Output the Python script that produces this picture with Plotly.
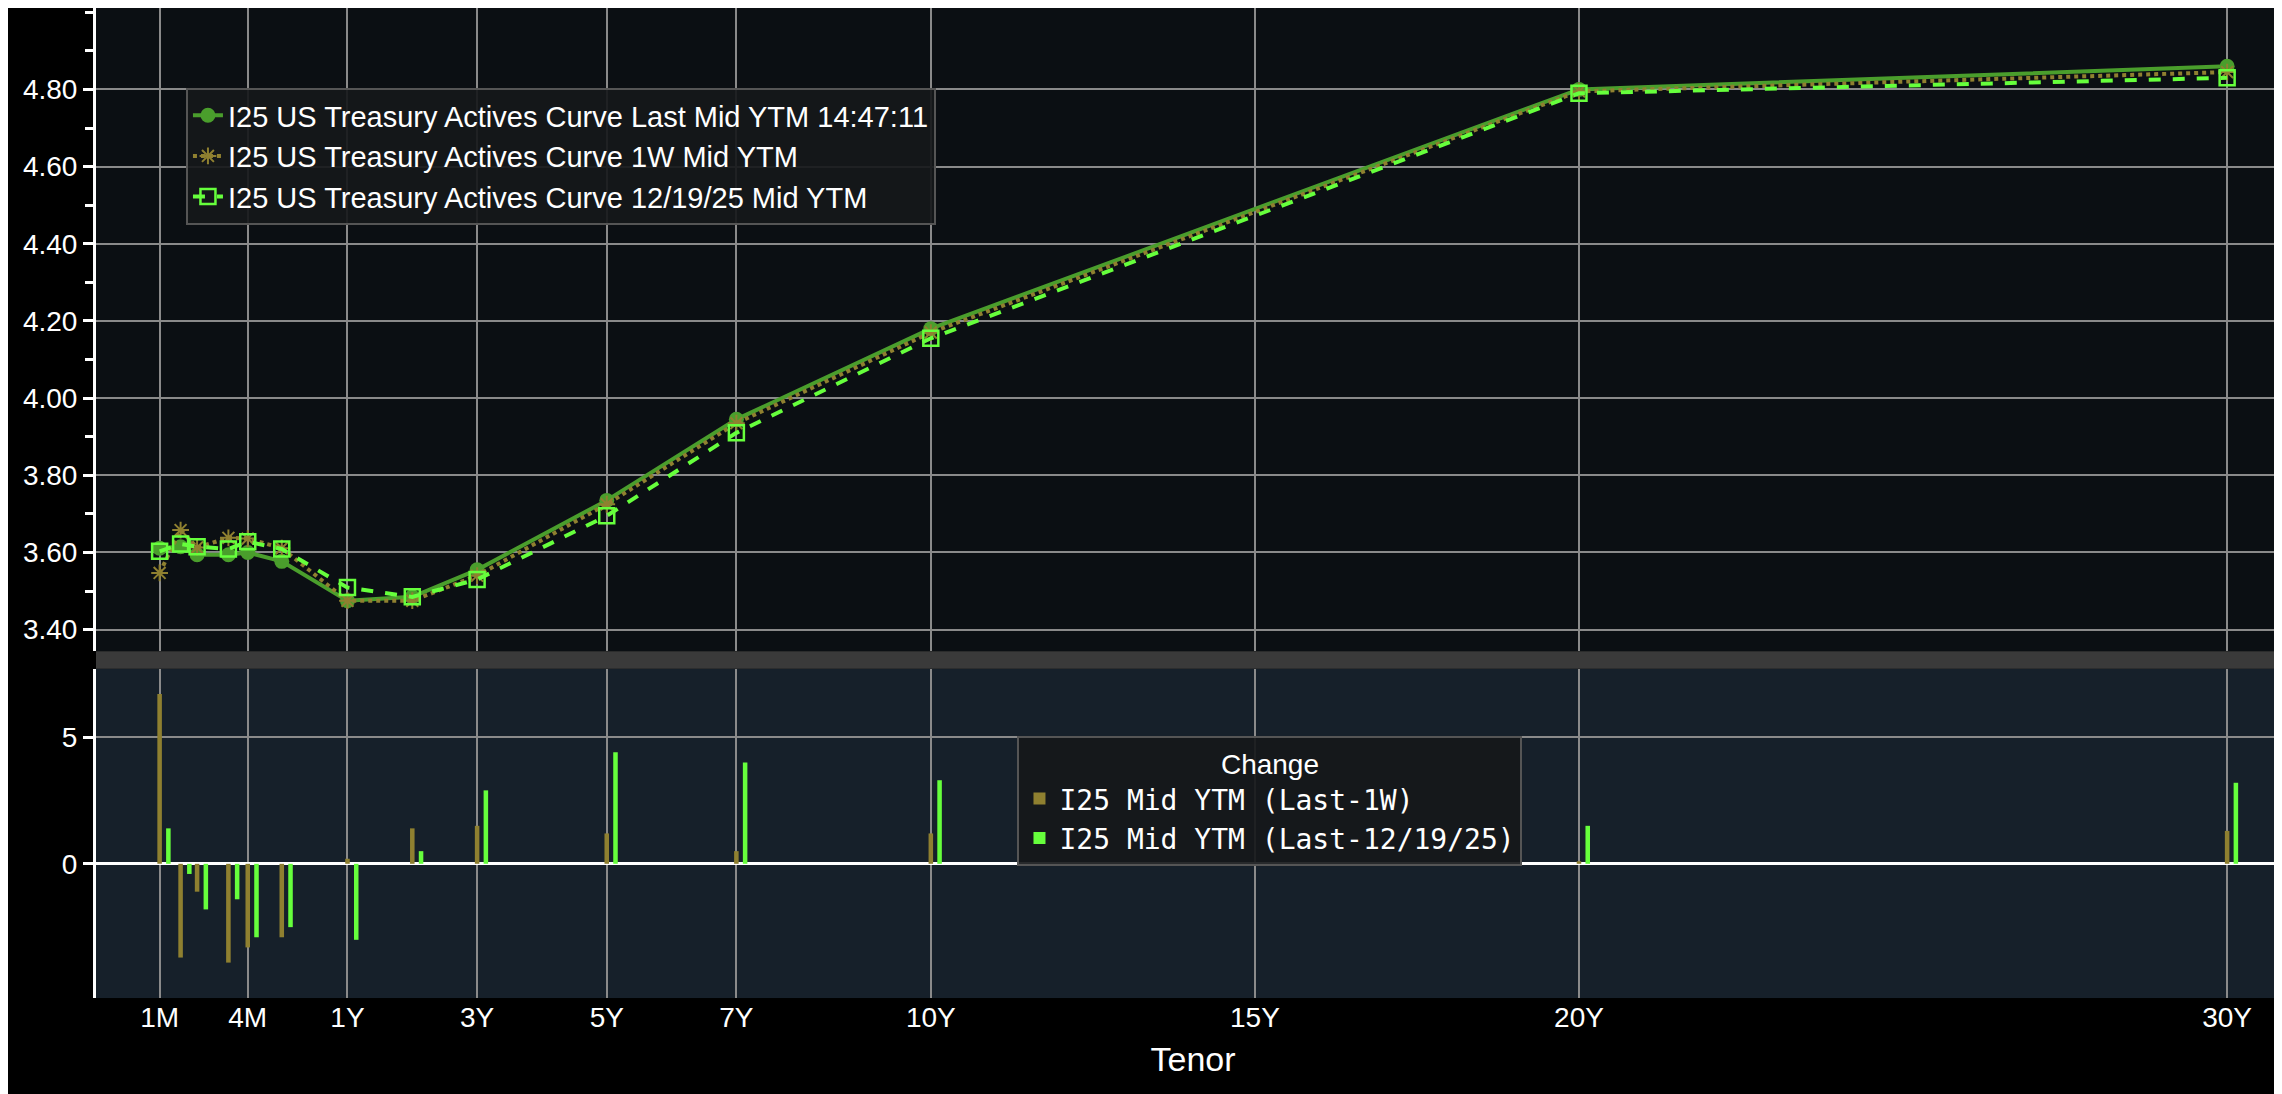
import plotly.graph_objects as go
from plotly.subplots import make_subplots
import numpy as np

tenor_weeks = [4, 6, 8, 13, 17, 26, 52, 104, 156, 260, 364, 520, 1040, 1560]
last = [3.611, 3.615, 3.594, 3.594, 3.600, 3.577, 3.475, 3.485, 3.555, 3.735, 3.945, 4.180, 4.800, 4.860]
wk1 = [3.547, 3.658, 3.613, 3.638, 3.636, 3.611, 3.475, 3.475, 3.540, 3.725, 3.935, 4.170, 4.795, 4.845]
dec19 = [3.603, 3.622, 3.615, 3.609, 3.628, 3.609, 3.509, 3.485, 3.530, 3.695, 3.910, 4.155, 4.790, 4.830]
chg_1w = [6.7, -3.7, -1.1, -3.9, -3.3, -2.9, 0.2, 1.4, 1.5, 1.2, 0.5, 1.2, 0.1, 1.3]
chg_dec19 = [1.4, -0.4, -1.8, -1.4, -2.9, -2.5, -3.0, 0.5, 2.9, 4.4, 4.0, 3.3, 1.5, 3.2]
tick_weeks = [4, 17, 52, 156, 260, 364, 520, 780, 1040, 1560]
tick_text = ["1M", "4M", "1Y", "3Y", "5Y", "7Y", "10Y", "15Y", "20Y", "30Y"]

def scale(weeks):
    t = np.asarray(weeks, float) / 52.0
    return np.where(t >= 1, t, 1 - 5.4 * (1 - t ** 0.3))

x = scale(tenor_weeks)
tx = scale(tick_weeks)

fig = make_subplots(rows=2, cols=1, shared_xaxes=True, vertical_spacing=0.0)
C_LAST = "#4a9e2c"
C_1W = "#8f8030"
C_DEC = "#66ff3c"

fig.add_trace(go.Scatter(x=x, y=last, mode="lines+markers", name="I25 US Treasury Actives Curve Last Mid YTM 14:47:11",
                         line=dict(color=C_LAST, width=4), marker=dict(size=15, color=C_LAST)), 1, 1)
fig.add_trace(go.Scatter(x=x, y=wk1, mode="lines+markers", name="I25 US Treasury Actives Curve 1W Mid YTM",
                         line=dict(color=C_1W, width=4, dash="dot"),
                         marker=dict(size=14, symbol="asterisk-open", color=C_1W, line=dict(color=C_1W, width=2))), 1, 1)
fig.add_trace(go.Scatter(x=x, y=dec19, mode="lines+markers", name="I25 US Treasury Actives Curve 12/19/25 Mid YTM",
                         line=dict(color=C_DEC, width=4, dash="dash"),
                         marker=dict(size=15, symbol="square-open", color=C_DEC, line=dict(color=C_DEC, width=2.5))), 1, 1)

fig.add_trace(go.Bar(x=x, y=chg_1w, name="I25 Mid YTM (Last-1W)", marker=dict(color=C_1W, line=dict(width=0)),
                     width=0.07, offset=-0.035, legend="legend2"), 2, 1)
fig.add_trace(go.Bar(x=x, y=chg_dec19, name="I25 Mid YTM (Last-12/19/25)", marker=dict(color=C_DEC, line=dict(width=0)),
                     width=0.07, offset=0.1, legend="legend2"), 2, 1)

fig.update_layout(
    width=2282, height=1094, margin=dict(l=88, r=0, t=0, b=0),
    paper_bgcolor="#000000", plot_bgcolor="#0b0f13",
    font=dict(family="Liberation Sans, Arial", color="white", size=28),
    barmode="overlay",
    legend=dict(x=0.041, y=0.927, xanchor="left", yanchor="top", bgcolor="rgba(22,24,26,0.92)",
                bordercolor="#555", borderwidth=2, font=dict(size=29, color="white"), tracegroupgap=0),
    legend2=dict(x=0.42, y=0.335, xanchor="left", yanchor="top", bgcolor="rgba(22,24,26,0.92)",
                 bordercolor="#555", borderwidth=2, font=dict(size=28, color="white", family="DejaVu Sans Mono"),
                 title=dict(text="Change", side="top center", font=dict(size=28, family="Liberation Sans"))),
)
fig.update_xaxes(tickvals=tx, ticktext=tick_text, range=[-2.88, 30.97], showgrid=True, gridcolor="#8a8a8a",
                 gridwidth=2, zeroline=False, showline=False, tickfont=dict(size=28), ticks="")
fig.update_xaxes(title=dict(text="Tenor", font=dict(size=34)), row=2, col=1)
fig.update_yaxes(domain=[0.412, 1.0], range=[3.344, 5.011], tickvals=[3.4, 3.6, 3.8, 4.0, 4.2, 4.4, 4.6, 4.8],
                 tickformat=".2f", showgrid=True, gridcolor="#8a8a8a", gridwidth=2, zeroline=False,
                 showline=True, linecolor="white", linewidth=3, ticks="outside", ticklen=10, tickcolor="white",
                 tickwidth=3, minor=dict(ticks="outside", ticklen=8, tickcolor="white", dtick=0.1, showgrid=False),
                 tickfont=dict(size=28), row=1, col=1)
fig.update_yaxes(domain=[0.095, 0.396], range=[-5.3, 7.7], tickvals=[0, 5], showgrid=True, gridcolor="#8a8a8a",
                 gridwidth=2, zeroline=True, zerolinecolor="white", zerolinewidth=3,
                 showline=True, linecolor="white", linewidth=3, ticks="outside", ticklen=10, tickcolor="white",
                 tickwidth=3, tickfont=dict(size=28), row=2, col=1)
fig.add_shape(type="rect", xref="paper", yref="paper", x0=0, x1=1, y0=0.095, y1=0.396,
              fillcolor="#16202a", line=dict(width=0), layer="below")
fig.add_shape(type="rect", xref="paper", yref="paper", x0=0, x1=1, y0=0.396, y1=0.412,
              fillcolor="#3a3a3a", line=dict(width=0))
fig.write_html("out.html")
